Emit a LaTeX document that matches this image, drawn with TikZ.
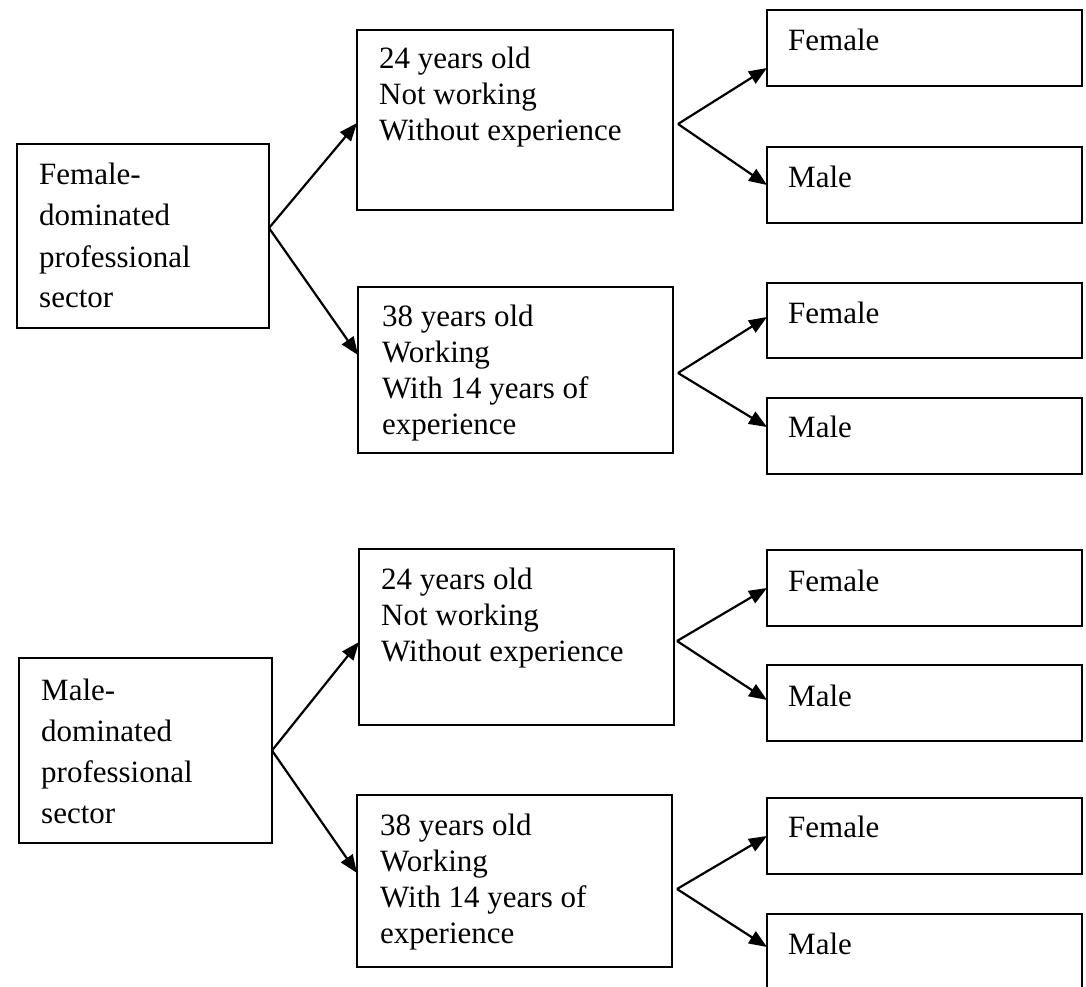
\documentclass[tikz,border=0pt]{standalone}
\usepackage{fontspec}
\setmainfont{Liberation Serif}
\usetikzlibrary{arrows.meta}
\newcommand\ml[1]{\begin{tabular}[t]{@{}l@{}}#1\end{tabular}}
\begin{document}
\begin{tikzpicture}[x=1pt,y=-1pt,
  box/.style={draw, line width=1.8pt, inner sep=0pt, outer sep=0pt},
  rbox/.style={box, minimum width=315pt, minimum height=76pt},
  txt/.style={inner sep=0pt, anchor=base west, font=\fontsize{31}{36}\selectfont},
  ltxt/.style={txt, font=\fontsize{31}{41}\selectfont},
  arr/.style={line width=2.2pt, -{Triangle[length=18pt,width=14pt]}}]
\clip (0,0) rectangle (1086,987);
\fill[white] (0,0) rectangle (1086,987);
% ---------- top group ----------
\node[box, minimum width=252pt, minimum height=184pt] (L1) at (143,236) {};
\node[box, minimum width=316pt, minimum height=180pt] (M1) at (515,120) {};
\node[box, minimum width=315pt, minimum height=166pt] (M2) at (515.5,370) {};
\node[rbox] (R1) at (924.5,48) {};
\node[rbox] (R2) at (924.5,185) {};
\node[rbox, minimum height=75pt] (R3) at (924.5,320.5) {};
\node[rbox] (R4) at (924.5,436) {};
\node[ltxt] (L1t) at (39,185) {\ml{Female-\\dominated\\professional\\sector}};
\node[txt] (M1t) at (379,69) {\ml{24 years old\\Not working\\Without experience}};
\node[txt] (M2t) at (382,326) {\ml{38 years old\\Working\\With 14 years of\\experience}};
\node[txt] (R1t) at (788,50.5) {Female};
\node[txt] (R2t) at (788,187) {Male};
\node[txt] (R3t) at (788,323) {Female};
\node[txt] (R4t) at (788,437) {Male};
\draw[arr] ([yshift=8pt]L1.east) -- ([yshift=-3pt]M1.west);
\draw[arr] ([yshift=8pt]L1.east) -- ([yshift=15pt]M2.west);
\draw[arr] ([shift={(5pt,-4pt)}]M1.east) -- ([yshift=-20pt]R1.west);
\draw[arr] ([shift={(5pt,-4pt)}]M1.east) -- (R2.west);
\draw[arr] ([shift={(5pt,-3pt)}]M2.east) -- ([yshift=3.5pt]R3.west);
\draw[arr] ([shift={(5pt,-3pt)}]M2.east) -- ([yshift=9pt]R4.west);
% ---------- bottom group ----------
\node[box, minimum width=253pt, minimum height=185pt] (L2) at (145.5,750.5) {};
\node[box, minimum width=315pt, minimum height=176pt] (M3) at (516.5,637) {};
\node[box, minimum width=315pt, minimum height=172pt] (M4) at (514.5,881) {};
\node[rbox] (R5) at (924.5,588) {};
\node[rbox] (R6) at (924.5,703) {};
\node[rbox] (R7) at (924.5,836) {};
\node[rbox, minimum height=80pt] (R8) at (924.5,954) {};
\node[ltxt] (L2t) at (41,700) {\ml{Male-\\dominated\\professional\\sector}};
\node[txt] (M3t) at (381,589) {\ml{24 years old\\Not working\\Without experience}};
\node[txt] (M4t) at (380,835) {\ml{38 years old\\Working\\With 14 years of\\experience}};
\node[txt] (R5t) at (788,591) {Female};
\node[txt] (R6t) at (788,706) {Male};
\node[txt] (R7t) at (788,837) {Female};
\node[txt] (R8t) at (788,954) {Male};
\draw[arr] (L2.east) -- ([yshift=-5pt]M3.west);
\draw[arr] (L2.east) -- ([yshift=8pt]M4.west);
\draw[arr] ([shift={(3pt,-4pt)}]M3.east) -- (R5.west);
\draw[arr] ([shift={(3pt,-4pt)}]M3.east) -- ([yshift=3pt]R6.west);
\draw[arr] ([shift={(5pt,-8pt)}]M4.east) -- (R7.west);
\draw[arr] ([shift={(5pt,-8pt)}]M4.east) -- ([yshift=7pt]R8.west);
\end{tikzpicture}
\end{document}
